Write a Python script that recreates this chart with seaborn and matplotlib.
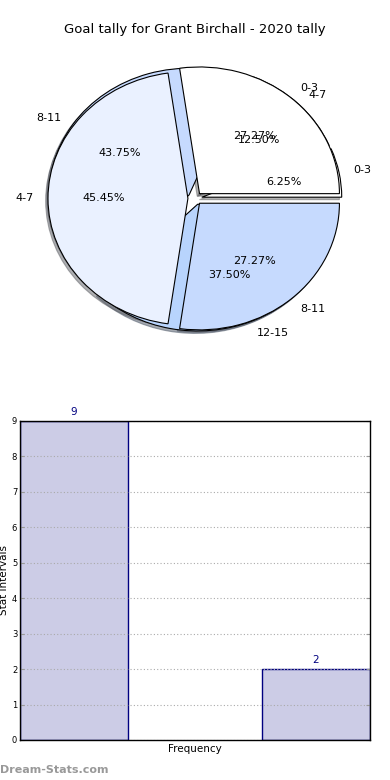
import numpy as np
import pandas as pd
import seaborn as sns
import matplotlib.pyplot as plt

# data
pie1_labels = ['0-3', '4-7', '8-11', '12-15']
pie1_counts = [1, 2, 7, 6]
pie2_labels = ['0-3', '4-7', '8-11']
pie2_counts = [3, 5, 3]
bar_pos = [0.5, 2.75]
bar_vals = [9, 2]
yticks = list(range(10))

sns.set_style("white")
plt.rcParams['font.family'] = ['DejaVu Sans']
plt.rcParams['text.color'] = 'black'
plt.rcParams['axes.labelcolor'] = 'black'
plt.rcParams['ytick.labelcolor'] = 'black'

fig = plt.figure(figsize=(3.9, 7.8), dpi=100)
fig.text(0.5, 0.962, 'Goal tally for Grant Birchall - 2020 tally',
         ha='center', va='center', fontsize=9.5)

# two pies drawn on top of each other, like the original
ax1 = fig.add_axes([0.0513, 0.5426, 0.897, 0.406])
pie_cols = ['#ffffff', '#eaf1ff', '#c6dafe', '#b8d4fd']
wp = dict(edgecolor='black', linewidth=0.8)
shd = dict(ox=-0.012, oy=-0.014, shade=0.6)
ax1.pie(pie1_counts, labels=pie1_labels, colors=pie_cols,
        explode=[0.05] * 4, autopct='%1.2f%%', shadow=shd,
        wedgeprops=wp, textprops=dict(fontsize=8))
ax1.pie(pie2_counts, labels=pie2_labels, colors=pie_cols[:3],
        explode=[0.05] * 3, autopct='%1.2f%%', shadow=shd,
        wedgeprops=wp, textprops=dict(fontsize=8))
ax1.set_aspect('auto')
ax1.set_xlim(-1.25, 1.25)
ax1.set_ylim(-1.25, 1.25)
ax1.axis('off')

# bar chart
ax2 = fig.add_axes([0.0513, 0.0513, 0.897, 0.409])
df = pd.DataFrame({'pos': bar_pos, 'val': bar_vals})
sns.barplot(data=df, x='pos', y='val', native_scale=True,
            width=1 / (bar_pos[1] - bar_pos[0]),
            color='#cccce6', saturation=1, edgecolor='#000080',
            linewidth=1, ax=ax2)
ax2.set_xlim(0, 3.25)
ax2.set_ylim(0, 9)
ax2.set_yticks(yticks)
ax2.set_xticks([])
ax2.tick_params(axis='y', labelsize=6, direction='in', length=3,
                color='#999999', right=True, left=True, pad=2)
ax2.yaxis.grid(True, linestyle=(0, (1, 2)), color='#aaaaaa', linewidth=0.8)
ax2.set_axisbelow('line')
for s in ax2.spines.values():
    s.set_color('black')
    s.set_linewidth(1)
for p, v in zip(bar_pos, bar_vals):
    ax2.text(p, v + 0.12, str(v), ha='center', va='bottom',
             color='#000080', fontsize=7.5)
ax2.set_xlabel('Frequency', fontsize=7.5, labelpad=3)
ax2.set_ylabel('Stat Intervals', fontsize=7.5, labelpad=2)

fig.text(0.0, 0.013, 'Dream-Stats.com', ha='left', va='center',
         fontsize=8, color='#999999', fontweight='bold')

fig.savefig('out.png', dpi=100)
